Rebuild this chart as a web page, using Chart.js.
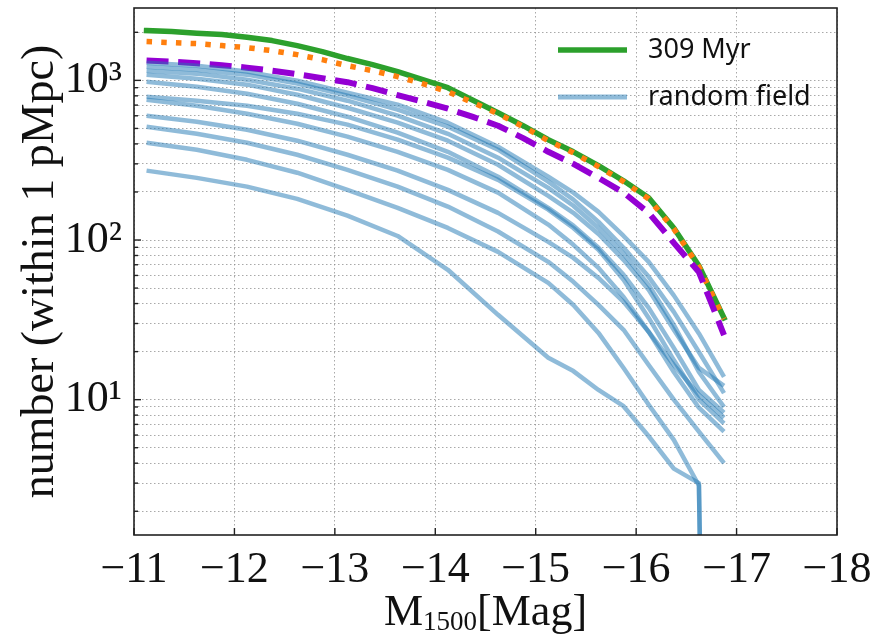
<!DOCTYPE html>
<html>
<head>
<meta charset="utf-8">
<script src="https://cdn.jsdelivr.net/npm/chart.js@4/dist/chart.umd.min.js"></script>
<style>
  html, body { margin: 0; padding: 0; background: #fff; }
  #wrap { width: 877px; height: 640px; }
</style>
</head>
<body>
<div id="wrap"><canvas id="lf" width="877" height="640"></canvas></div>
<script>
// UV magnitude (M1500) bin centres: fine binning for the 309 Myr curves, coarser for the random fields
const magnitudesFine = [-11.125, -11.375, -11.625, -11.875, -12.125, -12.375, -12.625, -12.875,
                        -13.125, -13.375, -13.625, -13.875, -14.125, -14.375, -14.625, -14.875,
                        -15.125, -15.375, -15.625, -15.875, -16.125, -16.375, -16.625, -16.875];
const magnitudes = [-11.125, -11.625, -12.125, -12.625, -13.125, -13.625, -14.125, -14.625,
                    -15.125, -15.375, -15.625, -15.875, -16.125, -16.375, -16.625, -16.875];

// cumulative counts within 1 pMpc
const counts309Myr = [2050, 2020, 1975, 1935, 1865, 1775, 1650, 1515, 1370, 1255, 1135, 1010,
                      900, 750, 627, 520, 425, 357, 292, 235, 184, 119, 69, 32.5];
const countsDotted = [1750, 1723, 1699, 1651, 1603, 1535, 1449, 1348, 1236, 1150, 1055, 953,
                      850, 725, 618, 513, 419, 352, 288, 232, 181, 117.5, 68, 32];
const countsDashed = [1330, 1310, 1282, 1245, 1201, 1150, 1094, 1032, 974, 894, 808, 735,
                      665, 590, 520, 435, 357, 300, 245, 198, 148, 96, 63, 25.4];

const randomField01 = [1290, 1235, 1135, 995, 837, 704, 543, 384, 249, 198, 150, 106, 73, 45, 26, 13.9];
const randomField02 = [1219, 1167, 1086, 954, 802, 655, 513, 368, 232, 179, 130, 89.4, 58.8, 35.5, 19.9, 11.0];
const randomField03 = [1150, 1102, 1010, 887, 746, 601, 463, 328, 212, 164, 119, 81.9, 52.4, 29.4, 14.9, 9.0];
const randomField04 = [1086, 1025, 940, 813, 674, 543, 419, 296, 189, 148, 109, 75.1, 48.7, 27.4, 15.8, 12.2];
const randomField05 = [981, 913, 825, 714, 592, 470, 357, 249, 159, 123, 89.4, 60.5, 37.6, 21.1, 11.5, 8.3];
const randomField06 = [791, 746, 694, 618, 528, 425, 328, 238, 155, 119, 86.8, 56.3, 32.5, 17.7, 10.0, 7.1];
const randomField07 = [757, 694, 618, 535, 444, 357, 275, 198, 125, 93.3, 66.9, 44.0, 26.6, 14.9, 8.9, 6.3];
const randomField08 = [601, 551, 491, 419, 342, 272, 206, 148, 97.4, 77.3, 57.9, 41.0, 26.6, 16.5, 10.7, 7.7];
const randomField09 = [513, 463, 407, 342, 275, 216, 162, 113, 73, 54.7, 39.2, 27.4, 16.5, 10.0, 6.3, 4.0];
const randomField10 = [407, 368, 318, 264, 206, 159, 119, 84.3, 53.9, 39.2, 26.2, 15.8, 9.3, 5.6, 2.9, 0];
const randomField11 = [272, 245, 216, 181, 142, 106, 65.1, 34.0, 18.3, 15.1, 11.5, 9.1, 5.9, 3.7, 3.0, 0];

const randomFields = [randomField01, randomField02, randomField03, randomField04, randomField05, randomField06,
                      randomField07, randomField08, randomField09, randomField10, randomField11];

const xTickValues = [-11, -12, -13, -14, -15, -16, -17, -18];
const yDecades = [10, 100, 1000];
const yTickLabels = { 10: '10\u00B9', 100: '10\u00B2', 1000: '10\u00B3' };

const legendItems = [
  { label: '309 Myr', color: '#2ca02c', width: 5.5 },
  { label: 'random field', color: 'rgba(31,119,180,0.5)', width: 5 }
];

// empty bins go to a vanishing value so the curve plunges off the log axis
const onLog = v => (v > 0 ? v : 1e-9);
const toPoints = (xs, arr) => xs.map((m, i) => ({ x: m, y: onLog(arr[i]) }));

const GREEN = '#2ca02c', ORANGE = '#ff7f0e', PURPLE = '#9400d3', BLUE = 'rgba(31,119,180,0.5)';
const SERIF = '"Liberation Serif", "DejaVu Serif", serif';

const datasets = [];
randomFields.forEach(arr => datasets.push({
  data: toPoints(magnitudes, arr), borderColor: BLUE, borderWidth: 4.5, order: 0,
  borderJoinStyle: 'round', borderCapStyle: 'butt'
}));
datasets.push({ data: toPoints(magnitudesFine, countsDashed), borderColor: PURPLE, borderWidth: 6, borderDash: [22, 9.6], order: 1, borderCapStyle: 'butt', borderJoinStyle: 'round' });
datasets.push({ data: toPoints(magnitudesFine, countsDotted), borderColor: ORANGE, borderWidth: 5.5, borderDash: [5.5, 9.2], order: 2, borderCapStyle: 'butt', borderJoinStyle: 'round' });
datasets.push({ data: toPoints(magnitudesFine, counts309Myr), borderColor: GREEN, borderWidth: 5.5, order: 3, borderCapStyle: 'square', borderJoinStyle: 'round' });

function logTickValues(min, max) {
  const out = [];
  for (let e = 0; e <= 3; e++) {
    for (let s = 1; s <= 9; s++) {
      const v = s * Math.pow(10, e);
      if (v >= min && v <= max) out.push(v);
    }
  }
  return out;
}

function noScalePadding(s) {
  s.paddingTop = 0; s.paddingBottom = 0; s.paddingLeft = 0; s.paddingRight = 0;
}

const framePlugin = {
  id: 'frameAndLabels',
  afterDatasetsDraw(chart) {
    const { ctx, chartArea: a, scales } = chart;
    const xs = scales.x, ys = scales.y;
    ctx.save();
    // inward tick marks
    ctx.strokeStyle = '#222';
    ctx.lineWidth = 1.4;
    ys.ticks.forEach(t => {
      const py = ys.getPixelForValue(t.value);
      const len = yDecades.includes(t.value) ? 7 : 4;
      ctx.beginPath(); ctx.moveTo(a.left, py); ctx.lineTo(a.left + len, py); ctx.stroke();
    });
    xs.ticks.forEach(t => {
      const px = xs.getPixelForValue(t.value);
      ctx.beginPath(); ctx.moveTo(px, a.bottom); ctx.lineTo(px, a.bottom - 7); ctx.stroke();
    });
    // frame
    ctx.lineWidth = 1.6;
    ctx.strokeStyle = '#222';
    ctx.strokeRect(a.left, a.top, a.right - a.left, a.bottom - a.top);

    // legend
    const lx0 = a.left + 424, lx1 = a.left + 493, tx = a.left + 514;
    const rows = [a.top + 42, a.top + 89];
    ctx.font = '27px "Noto Sans", "DejaVu Sans", sans-serif';
    ctx.textBaseline = 'middle';
    ctx.textAlign = 'left';
    legendItems.forEach((it, i) => {
      ctx.strokeStyle = it.color;
      ctx.lineWidth = it.width;
      ctx.lineCap = 'butt';
      ctx.beginPath(); ctx.moveTo(lx0, rows[i]); ctx.lineTo(lx1, rows[i]); ctx.stroke();
      ctx.fillStyle = '#111';
      ctx.fillText(it.label, tx, rows[i]);
    });

    // axis titles
    ctx.fillStyle = '#111';
    ctx.save();
    ctx.translate(53, (a.top + a.bottom) / 2);
    ctx.rotate(-Math.PI / 2);
    ctx.font = '46px ' + SERIF;
    ctx.textAlign = 'center';
    ctx.textBaseline = 'alphabetic';
    ctx.fillText('number (within 1 pMpc)', 0, 0);
    ctx.restore();

    const parts = [
      { t: 'M', f: '44px ' + SERIF, dy: 0 },
      { t: '1500', f: '27px ' + SERIF, dy: 5 },
      { t: '[Mag]', f: '44px ' + SERIF, dy: 0 }
    ];
    let total = 0;
    parts.forEach(p => { ctx.font = p.f; p.w = ctx.measureText(p.t).width; total += p.w; });
    let x = (a.left + a.right) / 2 - total / 2;
    const base = 625;
    ctx.textAlign = 'left';
    ctx.textBaseline = 'alphabetic';
    parts.forEach(p => { ctx.font = p.f; ctx.fillText(p.t, x, base + p.dy); x += p.w; });
    ctx.restore();
  }
};

new Chart(document.getElementById('lf'), {
  type: 'line',
  data: { datasets },
  options: {
    responsive: false,
    animation: false,
    devicePixelRatio: 1,
    layout: { padding: { top: 8, right: 40, left: 0, bottom: 0 } },
    elements: { point: { radius: 0 }, line: { tension: 0 } },
    plugins: { legend: { display: false }, tooltip: { enabled: false } },
    scales: {
      x: {
        type: 'linear', min: -18, max: -11, reverse: true,
        afterBuildTicks: s => { s.ticks = xTickValues.map(v => ({ value: v })); },
        afterFit: s => { s.height = 105; noScalePadding(s); },
        ticks: {
          padding: 9, maxRotation: 0, autoSkip: false, color: '#111',
          font: { family: SERIF, size: 44 },
          callback: v => '\u2212' + Math.abs(v)
        },
        grid: { color: 'rgba(140,140,140,0.75)', lineWidth: 1, drawTicks: false },
        border: { display: false, dash: [1.5, 2.5] }
      },
      y: {
        type: 'logarithmic', min: 1.42, max: 2840,
        afterBuildTicks: s => { s.ticks = logTickValues(s.min, s.max).map(v => ({ value: v })); },
        afterFit: s => { s.width = 134; noScalePadding(s); },
        ticks: {
          padding: 12, autoSkip: false, color: '#111',
          font: { family: SERIF, size: 44 },
          callback: v => yTickLabels[v] || ''
        },
        grid: { color: 'rgba(140,140,140,0.75)', lineWidth: 1, drawTicks: false },
        border: { display: false, dash: [1.5, 2.5] }
      }
    }
  },
  plugins: [framePlugin]
});
</script>
</body>
</html>
